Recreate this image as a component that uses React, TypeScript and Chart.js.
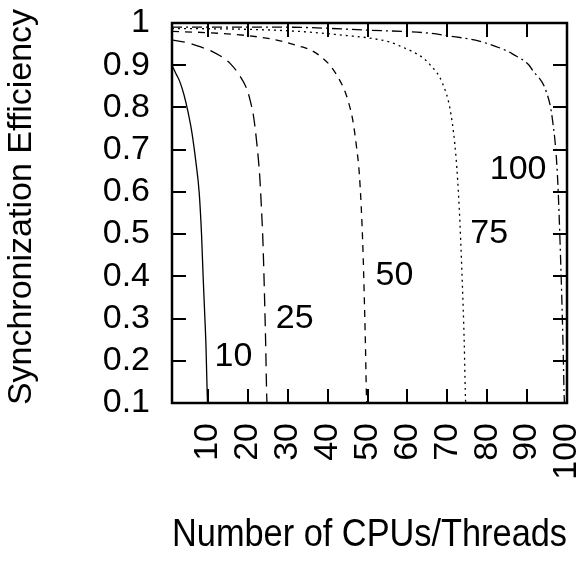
import React, { useEffect, useRef } from "react";
import { Chart, registerables } from "chart.js";

Chart.register(...registerables);

// Tick values
const xTickValues = [10, 20, 30, 40, 50, 60, 70, 80, 90, 100];
const yTickValues = [0.1, 0.2, 0.3, 0.4, 0.5, 0.6, 0.7, 0.8, 0.9, 1];

// Curve labels
const seriesNames = ["10", "25", "50", "75", "100"];

// Series readings: number of CPUs vs synchronization efficiency
const cpus10 = [1, 2, 3, 4, 5, 6, 7, 7.8, 8.4, 8.8, 9.2, 9.5, 9.8, 9.9];
const eff10 = [0.9, 0.88, 0.86, 0.83, 0.79, 0.74, 0.67, 0.6, 0.5, 0.4, 0.31, 0.24, 0.13, 0.1];

const cpus25 = [1, 5, 8, 11, 13.8, 15.5, 18, 19.7, 20.5, 21.5, 22.2, 23, 23.4, 23.8, 24.25, 24.5, 24.7, 24.8];
const eff25 = [0.96, 0.953, 0.944, 0.933, 0.918, 0.905, 0.875, 0.845, 0.82, 0.775, 0.72, 0.635, 0.565, 0.48, 0.33, 0.23, 0.13, 0.1];

const cpus50 = [1, 10, 20, 27, 33, 36, 38.75, 41, 43.8, 45, 46.3, 47.2, 48, 48.8, 49.25, 49.5, 49.7, 49.8];
const eff50 = [0.98, 0.977, 0.97, 0.96, 0.945, 0.935, 0.917, 0.895, 0.85, 0.82, 0.77, 0.71, 0.636, 0.48, 0.33, 0.23, 0.13, 0.1];

const cpus75 = [1, 20, 33, 45, 50, 55.5, 58, 61.3, 63.8, 65.5, 68.8, 70.9, 72.2, 73, 73.7, 74.25, 74.5, 74.6];
const eff75 = [0.987, 0.985, 0.98, 0.97, 0.965, 0.955, 0.946, 0.932, 0.918, 0.903, 0.857, 0.785, 0.68, 0.56, 0.4, 0.24, 0.13, 0.1];

const cpus100 = [1, 30, 50, 65.5, 70, 78, 84.7, 86.3, 90.5, 91.3, 94.7, 96.3, 97.6, 98.4, 99, 99.25, 99.35];
const eff100 = [0.99, 0.99, 0.983, 0.976, 0.97, 0.957, 0.935, 0.927, 0.9, 0.889, 0.84, 0.775, 0.64, 0.44, 0.24, 0.13, 0.1];

// Label anchor positions in data units
const labelCpus = [16.4, 31.75, 56.75, 80.5, 87.75];
const labelEff = [0.211, 0.301, 0.402, 0.502, 0.652];

const X_TITLE = "Number of CPUs/Threads";
const Y_TITLE = "Synchronization Efficiency";

const FONT = "'Liberation Sans', Arial, Helvetica, sans-serif";

const toPoints = (xs: number[], ys: number[]) => xs.map((x, i) => ({ x, y: ys[i] }));

const zeroPadding = (scale: any) => {
  scale.paddingLeft = 0;
  scale.paddingRight = 0;
  scale.paddingTop = 0;
  scale.paddingBottom = 0;
};

export default function App() {
  const canvasRef = useRef<HTMLCanvasElement | null>(null);

  useEffect(() => {
    const canvas = canvasRef.current;
    if (!canvas) return;

    const frameAndTicks = {
      id: "frameAndTicks",
      afterDatasetsDraw(chart: any) {
        const { ctx, chartArea, scales } = chart;
        const { left, right, top, bottom } = chartArea;
        const tl = 14;
        ctx.save();
        ctx.strokeStyle = "#000";
        ctx.lineWidth = 2;
        ctx.beginPath();
        xTickValues.forEach((v) => {
          const px = Math.round(scales.x.getPixelForValue(v));
          ctx.moveTo(px, bottom);
          ctx.lineTo(px, bottom - tl);
          ctx.moveTo(px, top);
          ctx.lineTo(px, top + tl);
        });
        yTickValues.forEach((v) => {
          const py = Math.round(scales.y.getPixelForValue(v));
          ctx.moveTo(left, py);
          ctx.lineTo(left + tl, py);
          ctx.moveTo(right, py);
          ctx.lineTo(right - tl, py);
        });
        ctx.stroke();
        ctx.lineWidth = 2.5;
        ctx.strokeRect(left, top, right - left, bottom - top);

        ctx.fillStyle = "#000";
        ctx.font = `34px ${FONT}`;
        ctx.textAlign = "center";
        ctx.textBaseline = "middle";
        seriesNames.forEach((name, i) => {
          ctx.fillText(
            name,
            scales.x.getPixelForValue(labelCpus[i]),
            scales.y.getPixelForValue(labelEff[i])
          );
        });

        // Y axis title (rotated), slightly above the plot centre as in the original
        ctx.save();
        ctx.font = `34px ${FONT}`;
        ctx.translate(22, (top + bottom) / 2 - 6);
        ctx.rotate(-Math.PI / 2);
        ctx.fillText(Y_TITLE, 0, 0);
        ctx.restore();

        ctx.restore();
      },
    };

    const common = {
      showLine: true,
      pointRadius: 0,
      borderColor: "#000",
      backgroundColor: "#000",
      borderWidth: 1.3,
      fill: false,
      cubicInterpolationMode: "monotone",
    };

    const chart = new Chart(canvas, {
      type: "scatter",
      data: {
        datasets: [
          { ...common, label: seriesNames[0], data: toPoints(cpus10, eff10), borderDash: [] },
          { ...common, label: seriesNames[1], data: toPoints(cpus25, eff25), borderDash: [13, 7] },
          { ...common, label: seriesNames[2], data: toPoints(cpus50, eff50), borderDash: [7, 6] },
          { ...common, label: seriesNames[3], data: toPoints(cpus75, eff75), borderDash: [2, 4] },
          { ...common, label: seriesNames[4], data: toPoints(cpus100, eff100), borderDash: [10, 4, 2, 4] },
        ],
      },
      options: {
        responsive: false,
        animation: false,
        devicePixelRatio: 1,
        layout: { padding: { top: 23, right: 12, left: 0, bottom: 0 } },
        plugins: {
          legend: { display: false },
          tooltip: { enabled: false },
        },
        scales: {
          x: {
            type: "linear",
            min: 1,
            max: 100,
            afterBuildTicks: (scale: any) => {
              scale.ticks = xTickValues.map((v) => ({ value: v }));
            },
            afterFit: (scale: any) => {
              scale.height = 161;
              zeroPadding(scale);
            },
            grid: { display: false, drawTicks: false },
            border: { display: false },
            ticks: {
              autoSkip: false,
              minRotation: 90,
              maxRotation: 90,
              padding: 20,
              color: "#000",
              font: { family: FONT, size: 34 },
              callback: (v: any) => String(v),
            },
            title: {
              display: true,
              text: X_TITLE,
              color: "#000",
              font: { family: FONT, size: 39 },
              padding: { top: 0, bottom: 5 },
            },
          },
          y: {
            type: "linear",
            min: 0.1,
            max: 1,
            afterBuildTicks: (scale: any) => {
              scale.ticks = yTickValues.map((v) => ({ value: v }));
            },
            afterFit: (scale: any) => {
              scale.width = 172;
              zeroPadding(scale);
            },
            grid: { display: false, drawTicks: false },
            border: { display: false },
            ticks: {
              autoSkip: false,
              padding: 22,
              color: "#000",
              font: { family: FONT, size: 34 },
              callback: (v: any) => (Math.abs(v - 1) < 1e-9 ? "1" : Number(v).toFixed(1)),
            },
            title: { display: false },
          },
        },
      },
      plugins: [frameAndTicks],
    } as any);

    return () => {
      chart.destroy();
    };
  }, []);

  return (
    <div style={{ position: "absolute", left: 0, top: 0, width: 579, height: 564, background: "#fff" }}>
      <canvas ref={canvasRef} width={579} height={564} style={{ display: "block" }} />
    </div>
  );
}
